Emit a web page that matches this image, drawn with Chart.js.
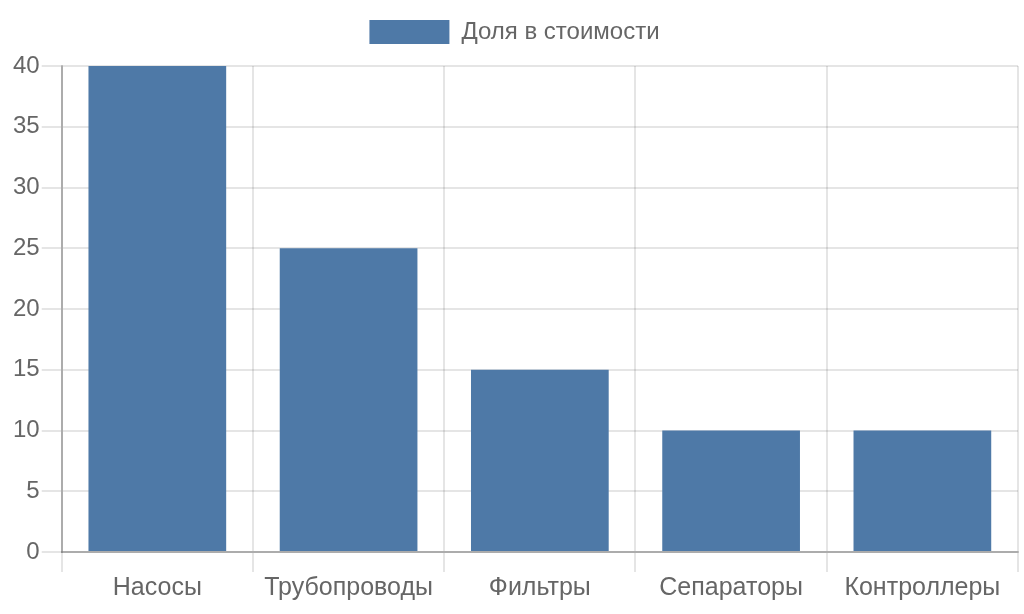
<!DOCTYPE html>
<html>
<head>
<meta charset="utf-8">
<script src="https://cdn.jsdelivr.net/npm/chart.js@4/dist/chart.umd.min.js"></script>
<style>
html,body{margin:0;padding:0;background:#fff;overflow:hidden;}
#wrap{width:1024px;height:614px;}
</style>
</head>
<body>
<div id="wrap"><canvas id="c" width="1024" height="614"></canvas></div>
<script>
const categories = ["Насосы", "Трубопроводы", "Фильтры", "Сепараторы", "Контроллеры"];
const seriesLabel = "Доля в стоимости";
const shares = [40, 25, 15, 10, 10];
const yTicks = { min: 0, max: 40, step: 5 };

Chart.defaults.font.family = "'Liberation Sans', Arial, sans-serif";
Chart.defaults.font.size = 24;
Chart.defaults.color = "#666";

const legendGap = {
  id: 'legendGap',
  beforeInit(chart) {
    const origFit = chart.legend.fit;
    chart.legend.fit = function () {
      origFit.bind(chart.legend)();
      this.height += 12;
    };
  }
};

new Chart(document.getElementById('c'), {
  type: 'bar',
  data: {
    labels: categories,
    datasets: [{
      label: seriesLabel,
      data: shares,
      backgroundColor: 'rgb(78,121,167)',
      borderWidth: 0
    }]
  },
  plugins: [legendGap],
  options: {
    responsive: false,
    animation: false,
    devicePixelRatio: 1,
    layout: { padding: { left: 11, right: 6, bottom: 10 } },
    plugins: {
      legend: {
        display: true,
        position: 'top',
        labels: { boxWidth: 80, boxHeight: 24, padding: 20 }
      },
      tooltip: { enabled: false }
    },
    scales: {
      x: {
        ticks: { padding: 1, font: { size: 25 } },
        grid: { color: 'rgba(0,0,0,0.1)', offset: true, lineWidth: 2, tickLength: 20 },
        border: { color: 'rgba(0,0,0,0.25)', width: 2 }
      },
      y: {
        min: yTicks.min,
        max: yTicks.max,
        ticks: { stepSize: yTicks.step, padding: 2 },
        grid: { color: 'rgba(0,0,0,0.1)', lineWidth: 2, tickLength: 20 },
        border: { color: 'rgba(0,0,0,0.25)', width: 2 }
      }
    }
  }
});
</script>
</body>
</html>
